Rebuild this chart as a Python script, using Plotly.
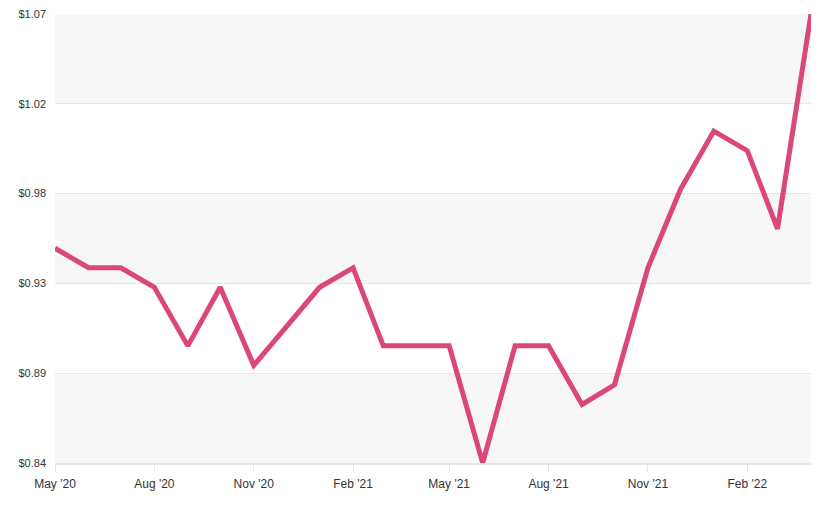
import plotly.graph_objects as go

months = ["2020-05-01", "2020-06-01", "2020-07-01", "2020-08-01", "2020-09-01", "2020-10-01",
          "2020-11-01", "2020-12-01", "2021-01-01", "2021-02-01", "2021-03-01", "2021-04-01",
          "2021-05-01", "2021-06-01", "2021-07-01", "2021-08-01", "2021-09-01", "2021-10-01",
          "2021-11-01", "2021-12-01", "2022-01-01", "2022-02-01", "2022-03-01", "2022-04-01"]
prices = [0.95, 0.94, 0.94, 0.93, 0.90, 0.93, 0.89, 0.91, 0.93, 0.94, 0.90, 0.90,
          0.90, 0.84, 0.90, 0.90, 0.87, 0.88, 0.94, 0.98, 1.01, 1.00, 0.96, 1.07]

y_ticks = [0.84, 0.886, 0.932, 0.978, 1.024, 1.07]
y_labels = ["$0.84", "$0.89", "$0.93", "$0.98", "$1.02", "$1.07"]
x_tickvals = ["2020-05-01", "2020-08-01", "2020-11-01", "2021-02-01",
              "2021-05-01", "2021-08-01", "2021-11-01", "2022-02-01"]
x_ticklabels = ["May '20", "Aug '20", "Nov '20", "Feb '21", "May '21", "Aug '21", "Nov '21", "Feb '22"]

fig = go.Figure()
fig.add_trace(go.Scatter(x=months, y=prices, mode="lines", cliponaxis=False,
                         line=dict(color="#db477a", width=5), hoverinfo="x+y"))

shapes = []
for i in range(len(y_ticks) - 1):
    if i % 2 == 0:
        shapes.append(dict(type="rect", xref="paper", yref="y", x0=0, x1=1,
                           y0=y_ticks[i], y1=y_ticks[i + 1],
                           fillcolor="#f7f7f7", line=dict(width=0), layer="below"))

# page body adds an 8px offset, so the figure is sized to fill the rest of the window
fig.update_layout(
    width=811, height=498,
    margin=dict(l=47, r=8, t=6, b=43, autoexpand=False),
    paper_bgcolor="white", plot_bgcolor="white",
    showlegend=False,
    shapes=shapes,
    font=dict(family="Liberation Sans, Arial, sans-serif", size=11, color="#333333"),
    xaxis=dict(range=[months[0], months[-1]], tickvals=x_tickvals, ticktext=x_ticklabels,
               automargin=False, ticklabelstandoff=2,
               showgrid=False, showline=True, linecolor="#e6e6e6", linewidth=2,
               ticks="outside", ticklen=7, tickcolor="#e6e6e6", tickwidth=1,
               tickfont=dict(size=12, color="#333333"), zeroline=False),
    yaxis=dict(range=[0.84, 1.07], tickvals=y_ticks, ticktext=y_labels, automargin=False,
               ticklabeloverflow="allow",
               showgrid=True, gridcolor="#e6e6e6", gridwidth=1, zeroline=False,
               ticks="", tickfont=dict(size=11, color="#333333"), ticklabelstandoff=8),
)

fig.write_html("out.html")
